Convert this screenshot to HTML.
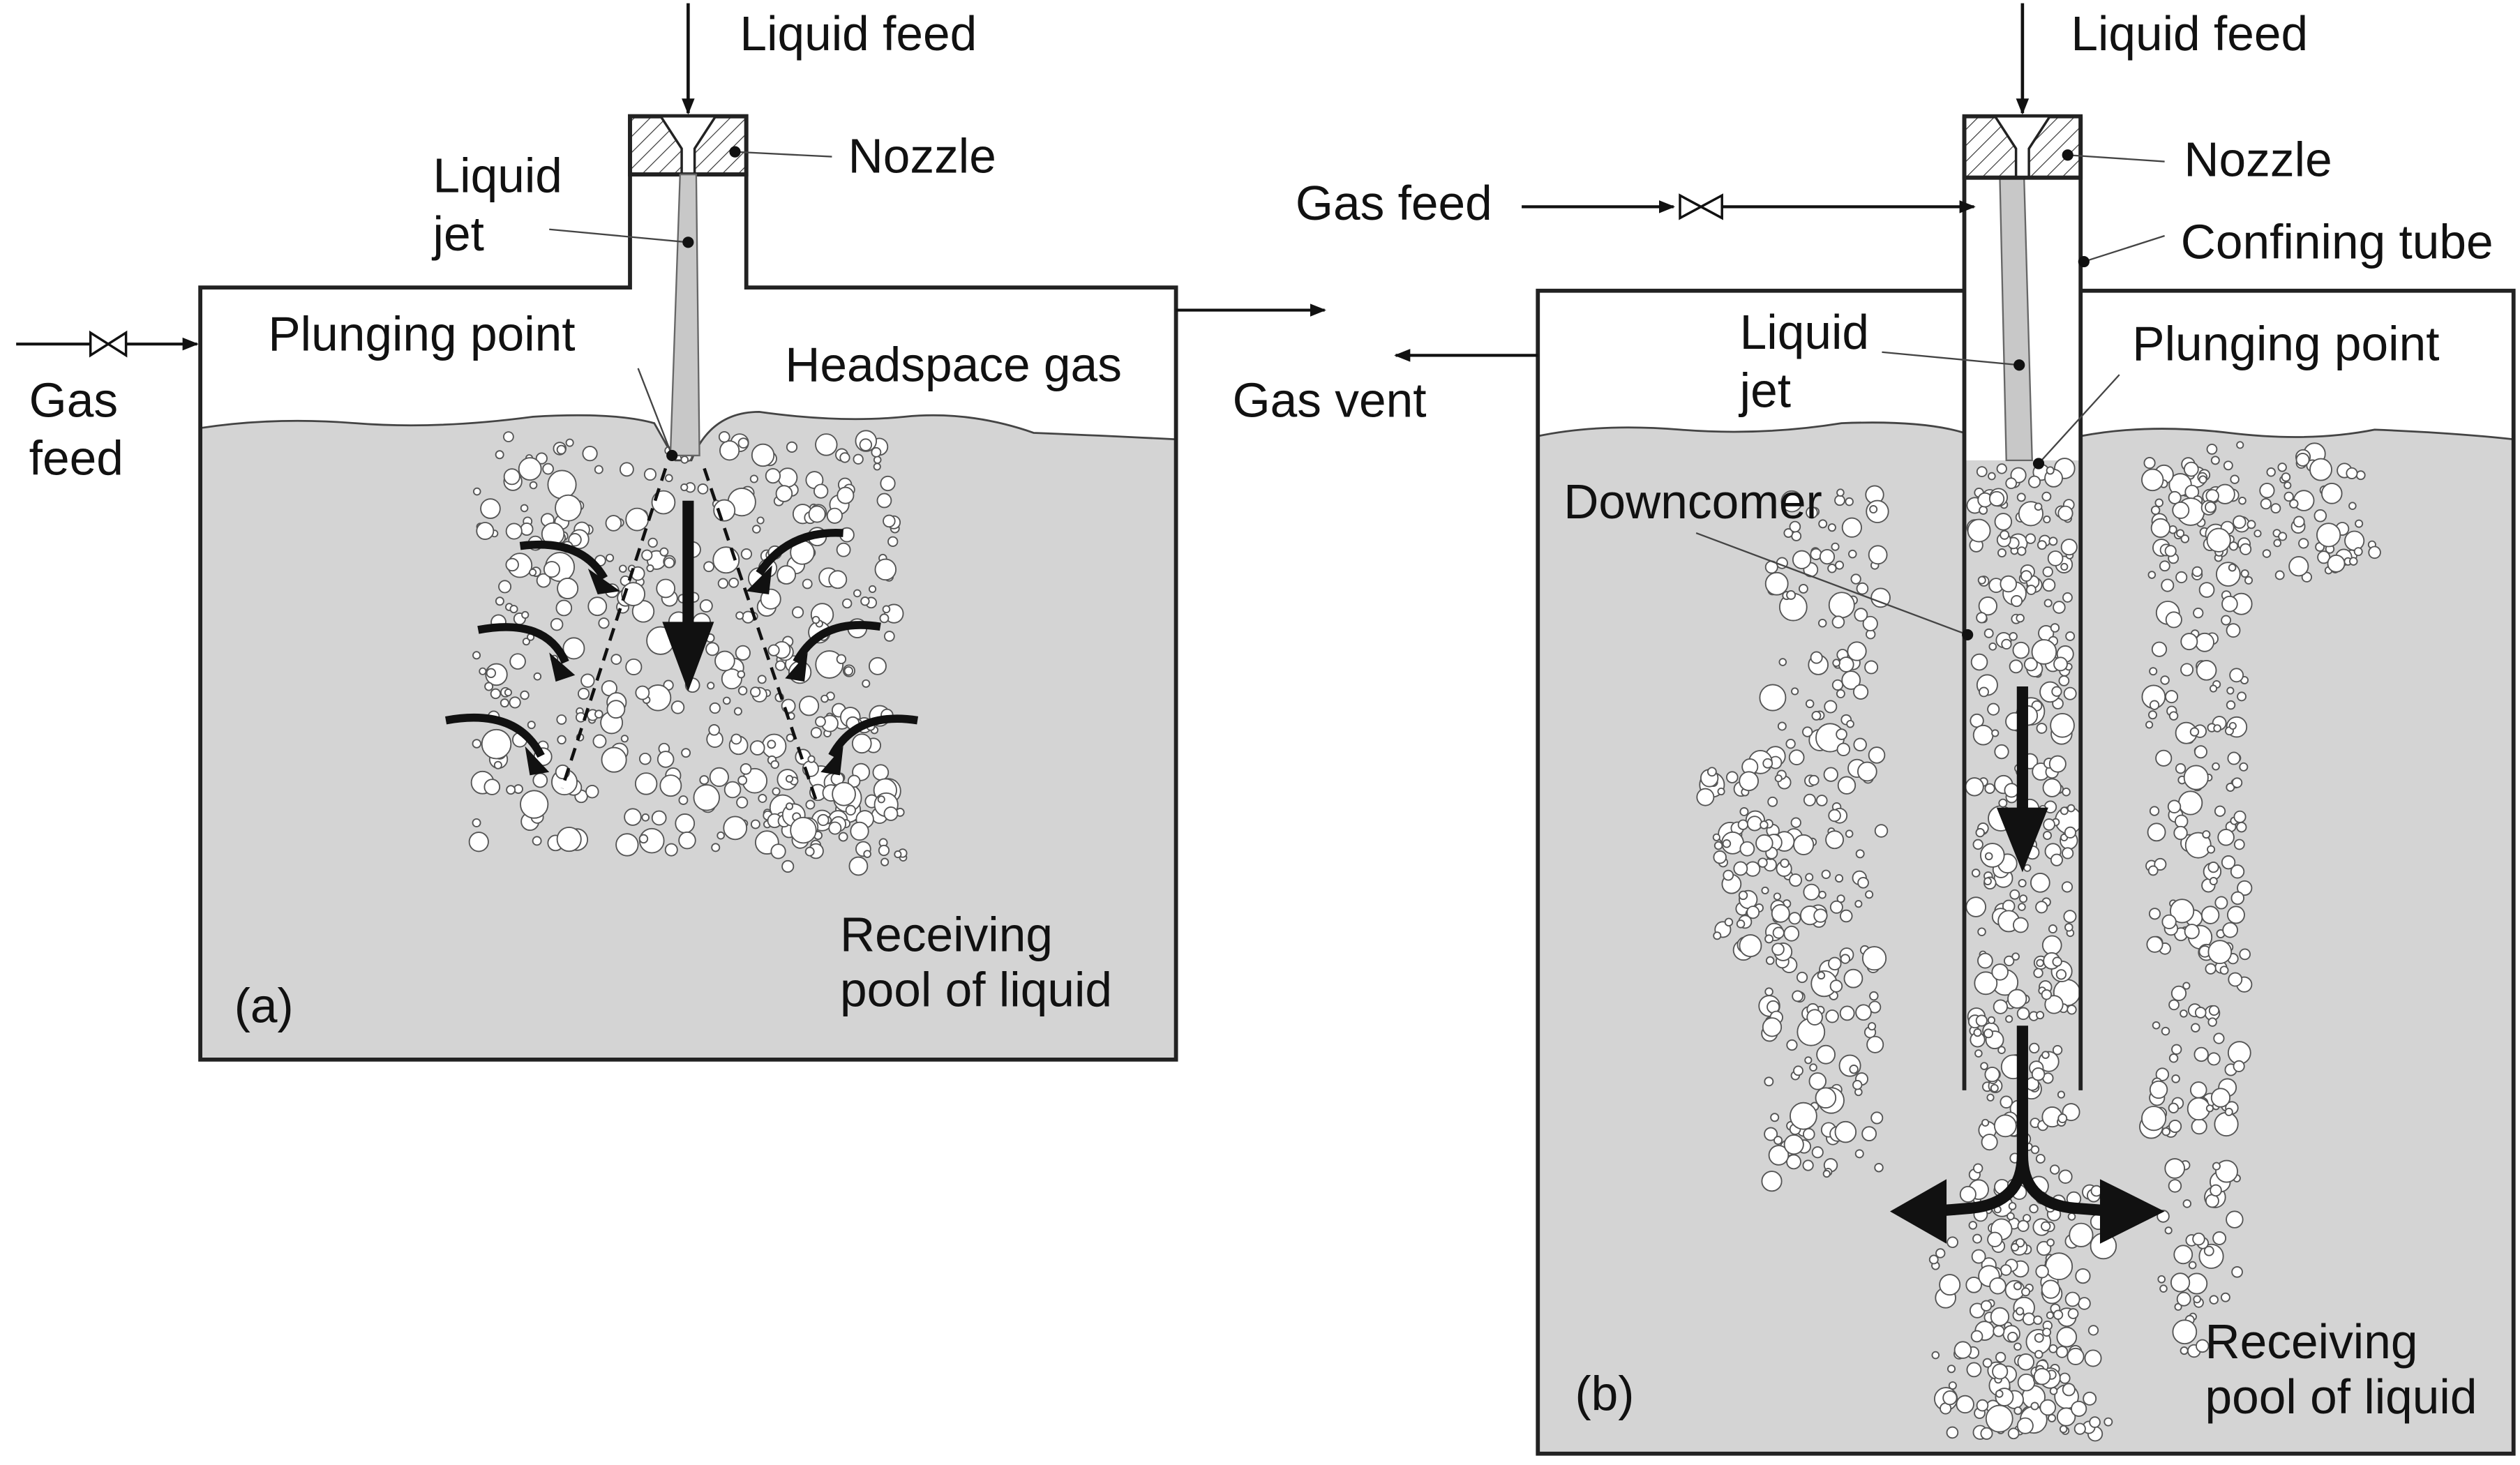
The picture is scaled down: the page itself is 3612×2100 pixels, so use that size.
<!DOCTYPE html>
<html><head><meta charset="utf-8"><style>
html,body{margin:0;padding:0;background:#fff;}
svg{display:block;}
text{font-family:"Liberation Sans",Arial,sans-serif;font-size:30px;fill:#111;}
</style></head><body>
<svg id="s" width="3612" height="2100" viewBox="0 0 1560 907" preserveAspectRatio="none" xmlns="http://www.w3.org/2000/svg">
<defs>
<marker id="ah" markerWidth="10" markerHeight="10" refX="9" refY="5" orient="auto" markerUnits="userSpaceOnUse"><path d="M0,1 L10,5 L0,9 z" fill="#111"/></marker>
<pattern id="hatch" width="7" height="7" patternUnits="userSpaceOnUse" patternTransform="rotate(45)"><line x1="0" y1="0" x2="0" y2="7" stroke="#333" stroke-width="1"/></pattern>
</defs>
<!-- LEFT TANK -->
<path d="M124,265 Q170,258 220,262 T330,258 Q380,255 405,262 L418,285 L428,285 Q440,255 470,255 Q520,262 560,258 T640,268 Q690,270 728,272 L728,656 L124,656 Z" fill="#d4d4d4" stroke="#444" stroke-width="1.2"/>
<g id="bubA"></g>
<path d="M124,178 H390 V72 H462 V178 H728 V656 H124 Z" fill="none" stroke="#222" stroke-width="2.5"/>
<rect x="390" y="72" width="72" height="36" fill="url(#hatch)" stroke="#222" stroke-width="2.5"/>
<path d="M409,72 L422,92 L422,108 L430,108 L430,92 L443,72 Z" fill="#fff" stroke="#222" stroke-width="1.5"/>
<line x1="390" y1="108" x2="462" y2="108" stroke="#222" stroke-width="2.5"/>
<path d="M421,108 L431,108 L433,282 L415,282 Z" fill="#c8c8c8" stroke="#666" stroke-width="1"/>
<line x1="426" y1="2" x2="426" y2="70" stroke="#111" stroke-width="2" marker-end="url(#ah)"/>
<text x="458" y="31">Liquid feed</text>
<line x1="455" y1="94" x2="515" y2="97" stroke="#444" stroke-width="1"/><circle cx="455" cy="94" r="3.5" fill="#111"/>
<text x="525" y="107">Nozzle</text>
<text x="268" y="119">Liquid</text><text x="268" y="155">jet</text>
<line x1="340" y1="142" x2="426" y2="150" stroke="#444" stroke-width="1"/><circle cx="426" cy="150" r="3.5" fill="#111"/>
<text x="166" y="217">Plunging point</text>
<line x1="395" y1="228" x2="416" y2="282" stroke="#444" stroke-width="1"/><circle cx="416" cy="282" r="3.5" fill="#111"/>
<text x="486" y="236">Headspace gas</text>
<line x1="10" y1="213" x2="122" y2="213" stroke="#111" stroke-width="1.8" marker-end="url(#ah)"/>
<path d="M56,206 L78,220 L78,206 L56,220 Z" fill="#fff" stroke="#111" stroke-width="1.5"/>
<text x="18" y="258">Gas</text><text x="18" y="294">feed</text>
<path d="M728,192 H820" stroke="#111" stroke-width="1.8" fill="none" marker-end="url(#ah)"/>
<text x="763" y="258">Gas vent</text>
<line x1="412" y1="290" x2="348" y2="488" stroke="#111" stroke-width="2" stroke-dasharray="8,5"/>
<line x1="436" y1="290" x2="505" y2="495" stroke="#111" stroke-width="2" stroke-dasharray="8,5"/>
<line x1="426" y1="310" x2="426" y2="390" stroke="#111" stroke-width="7"/>
<path d="M410,385 L442,385 L426,428 Z" fill="#111"/>
<g fill="none" stroke="#111" stroke-width="5">
<path d="M322,338 Q360,333 374,358"/><path d="M296,390 Q338,382 350,410"/><path d="M276,446 Q320,438 335,468"/>
<path d="M522,330 Q488,328 470,355"/><path d="M545,388 Q508,382 493,410"/><path d="M568,446 Q530,440 515,468"/>
</g>
<g fill="#111">
<path d="M364,352 L384,366 L370,368 Z"/><path d="M340,404 L356,418 L344,422 Z"/><path d="M325,462 L340,478 L328,480 Z"/>
<path d="M478,350 L462,366 L476,368 Z"/><path d="M500,404 L486,420 L498,422 Z"/><path d="M522,462 L508,478 L520,480 Z"/>
</g>
<text x="520" y="589">Receiving</text><text x="520" y="623">pool of liquid</text>
<text x="145" y="633">(a)</text>
<!-- RIGHT TANK -->
<path d="M952,270 Q990,262 1040,266 T1140,262 Q1190,260 1216,268 L1216,900 L952,900 Z" fill="#d4d4d4"/>
<path d="M1288,270 Q1330,262 1380,268 T1470,266 Q1520,268 1556,272 L1556,900 L1288,900 Z" fill="#d4d4d4"/>
<path d="M952,270 Q990,262 1040,266 T1140,262 Q1190,260 1216,268" fill="none" stroke="#444" stroke-width="1.2"/>
<path d="M1288,270 Q1330,262 1380,268 T1470,266 Q1520,268 1556,272" fill="none" stroke="#444" stroke-width="1.2"/>
<rect x="1215" y="285" width="74" height="615" fill="#d4d4d4"/>
<path d="M1238,110 L1253,110 L1258,285 L1242,285 Z" fill="#c8c8c8" stroke="#666" stroke-width="1"/>
<g id="bubB"></g>
<path d="M1216,180 H952 V900 H1556 V180 H1288" fill="none" stroke="#222" stroke-width="2.5"/>
<line x1="1216" y1="72" x2="1216" y2="675" stroke="#222" stroke-width="2.5"/>
<line x1="1288" y1="72" x2="1288" y2="675" stroke="#222" stroke-width="2.5"/>
<rect x="1216" y="72" width="72" height="38" fill="url(#hatch)" stroke="#222" stroke-width="2.5"/>
<path d="M1235,72 L1248,92 L1248,110 L1256,110 L1256,92 L1269,72 Z" fill="#fff" stroke="#222" stroke-width="1.5"/>
<line x1="1216" y1="110" x2="1288" y2="110" stroke="#222" stroke-width="2.5"/>
<line x1="1252" y1="2" x2="1252" y2="70" stroke="#111" stroke-width="2" marker-end="url(#ah)"/>
<text x="1282" y="31">Liquid feed</text>
<line x1="1280" y1="96" x2="1340" y2="100" stroke="#444" stroke-width="1"/><circle cx="1280" cy="96" r="3.5" fill="#111"/>
<text x="1352" y="109">Nozzle</text>
<text x="802" y="136">Gas feed</text>
<line x1="942" y1="128" x2="1036" y2="128" stroke="#111" stroke-width="1.8" marker-end="url(#ah)"/>
<path d="M1040,121 L1066,135 L1066,121 L1040,135 Z" fill="#fff" stroke="#111" stroke-width="1.5"/>
<line x1="1066" y1="128" x2="1222" y2="128" stroke="#111" stroke-width="1.8" marker-end="url(#ah)"/>
<line x1="1290" y1="162" x2="1340" y2="146" stroke="#444" stroke-width="1"/><circle cx="1290" cy="162" r="3.5" fill="#111"/>
<text x="1350" y="160">Confining tube</text>
<path d="M952,220 H864" stroke="#111" stroke-width="1.8" fill="none" marker-end="url(#ah)"/>
<text x="1077" y="216">Liquid</text><text x="1077" y="252">jet</text>
<line x1="1165" y1="218" x2="1250" y2="226" stroke="#444" stroke-width="1"/><circle cx="1250" cy="226" r="3.5" fill="#111"/>
<text x="1320" y="223">Plunging point</text>
<line x1="1312" y1="232" x2="1262" y2="287" stroke="#444" stroke-width="1"/><circle cx="1262" cy="287" r="3.5" fill="#111"/>
<text x="968" y="321">Downcomer</text>
<line x1="1050" y1="330" x2="1218" y2="393" stroke="#444" stroke-width="1"/><circle cx="1218" cy="393" r="3.5" fill="#111"/>
<line x1="1252" y1="425" x2="1252" y2="505" stroke="#111" stroke-width="7"/>
<path d="M1236,500 L1268,500 L1252,540 Z" fill="#111"/>
<path d="M1252,635 L1252,715 Q1252,745 1220,748 L1195,750 M1252,715 Q1252,745 1284,748 L1310,750" fill="none" stroke="#111" stroke-width="7"/>
<path d="M1170,750 L1205,730 L1205,770 Z" fill="#111"/><path d="M1340,750 L1300,730 L1300,770 Z" fill="#111"/>
<text x="1365" y="841">Receiving</text><text x="1365" y="875">pool of liquid</text>
<text x="975" y="873">(b)</text>
</svg>
<script>
(function(){
var seed=7;function r(){seed=(seed*16807)%2147483647;return seed/2147483647;}
function add(id,cx,cy,w,h,n){var g=document.getElementById(id),s='';for(var i=0;i<n;i++){var x=cx+(r()-0.5)*w,y=cy+(r()-0.5)*h,rad=2+r()*r()*7;s+='<circle cx="'+x.toFixed(1)+'" cy="'+y.toFixed(1)+'" r="'+rad.toFixed(1)+'" fill="#fff" stroke="#555" stroke-width="0.8"/>';}g.innerHTML+=s;}
add('bubA',425,400,260,260,420);
add('bubA',520,510,80,60,40);
add('bubB',1252,590,62,600,380);
add('bubB',1252,810,110,160,90);
add('bubB',1130,520,70,430,220);
add('bubB',1080,530,50,120,60);
add('bubB',1360,490,60,430,200);
add('bubB',1400,320,140,80,90);
add('bubB',1360,780,50,120,40);
})();
</script>
</body></html>
